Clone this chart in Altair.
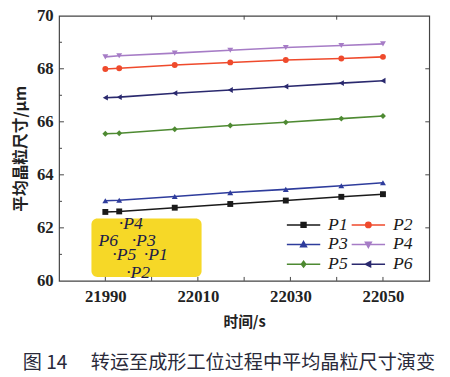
import altair as alt
import pandas as pd

# ---- data ----
times = [21990, 21993, 22005, 22017, 22029, 22041, 22050]
series_names = ["P1", "P2", "P3", "P4", "P5", "P6"]
p1 = [62.60, 62.62, 62.76, 62.90, 63.03, 63.17, 63.27]
p2 = [67.99, 68.02, 68.14, 68.24, 68.33, 68.39, 68.45]
p3 = [63.02, 63.04, 63.18, 63.33, 63.45, 63.59, 63.70]
p4 = [68.45, 68.49, 68.59, 68.70, 68.80, 68.88, 68.94]
p5 = [65.55, 65.57, 65.72, 65.86, 65.98, 66.12, 66.22]
p6 = [66.91, 66.93, 67.08, 67.20, 67.33, 67.46, 67.55]

colors = ["#1a1a1a", "#ef4a2c", "#2e3c9c", "#a67cc6", "#4e8a32", "#2a296e"]
shapes = ["square", "circle", "triangle-up", "triangle-down", "diamond", "triangle-left"]
legend_paths = [
    "M-3.4,0H3.4M-0.5,-0.5H0.5V0.5H-0.5Z",
    "M-3.4,0H3.4M0.55,0A0.55,0.55,0,1,1,-0.55,0A0.55,0.55,0,1,1,0.55,0Z",
    "M-3.4,0H3.4M0,-0.6L0.6,0.45L-0.6,0.45Z",
    "M-3.4,0H3.4M0,0.6L0.6,-0.45L-0.6,-0.45Z",
    "M-3.4,0H3.4M0,-0.6L0.45,0L0,0.6L-0.45,0Z",
    "M-3.4,0H3.4M-0.6,0L0.45,-0.55L0.45,0.55Z",
]

x_ticks_bottom = [21990, 22000, 22010, 22020, 22030, 22040, 22050]
x_ticks_top = [22000, 22020, 22040]
x_labels = [21990, 22010, 22030, 22050]
y_labels = [60, 62, 64, 66, 68, 70]
y_ticks_major = [62, 64, 66, 68]
y_ticks_minor = [61, 63, 65, 67, 69]

# inset annotation (yellow box)
box = pd.DataFrame({"x": [21987.0], "x2": [22010.8], "y": [60.15], "y2": [62.35]})
inset_text = ["·P4", "P6", "·P3", "·P5", "·P1", "·P2"]
inset_x = [21992.9, 21988.5, 21995.7, 21991.5, 21998.3, 21994.5]
inset_y = [62.15, 61.50, 61.50, 60.96, 60.96, 60.29]

caption = "图 14\u3000 转运至成形工位过程中平均晶粒尺寸演变"

# ---- build tables ----
rows = []
for name, vals in zip(series_names, [p1, p2, p3, p4, p5, p6]):
    for t, v in zip(times, vals):
        rows.append({"t": t, "v": v, "s": name})
df = pd.DataFrame(rows)

W, H = 377, 270
xscale = alt.Scale(domain=[21980, 22060], nice=False, zero=False)
yscale = alt.Scale(domain=[60, 70], nice=False, zero=False)
cscale = alt.Scale(domain=series_names, range=colors)

X = alt.X("t:Q", scale=xscale,
          axis=alt.Axis(values=x_labels, format="d", ticks=False, domain=False, grid=False,
                        labelPadding=8, title="时间/s", titlePadding=10))
Y = alt.Y("v:Q", scale=yscale,
          axis=alt.Axis(values=y_labels, ticks=False, domain=False, grid=False,
                        labelPadding=6, title="平均晶粒尺寸/μm", titlePadding=8,
                        titleFontSize=16))

lines = alt.Chart(df).mark_line(strokeWidth=1.6).encode(
    x=X, y=Y, color=alt.Color("s:N", scale=cscale, legend=None), detail="s:N")

point_layers = []
for name, shp in zip(series_names, shapes):
    point_layers.append(
        alt.Chart(df).transform_filter(alt.datum.s == name)
        .mark_point(filled=True, shape=shp, size=36, opacity=1)
        .encode(x="t:Q", y="v:Q", color=alt.Color("s:N", scale=cscale, legend=None))
    )

leg = alt.Legend(orient="none", legendX=240, legendY=204, columns=2, direction="horizontal",
                 title=None, symbolSize=100, symbolStrokeWidth=1.5, labelFont="Liberation Serif",
                 labelFontStyle="italic", labelFontSize=18, labelColor="#1a1a1a",
                 labelOffset=16, columnPadding=1, rowPadding=2, padding=0)
# legend-only layer: its marks sit outside the x domain and are clipped away
legend_layer = alt.Chart(df).transform_calculate(tl="datum.t + 1000").mark_point(
    filled=True, size=30, strokeWidth=1.5, opacity=1, clip=True).encode(
    x=alt.X("tl:Q", scale=xscale), y="v:Q",
    fill=alt.Fill("s:N", scale=alt.Scale(range=colors), legend=leg),
    stroke=alt.Stroke("s:N", scale=alt.Scale(range=colors), legend=leg),
    shape=alt.Shape("s:N", scale=alt.Scale(range=legend_paths), legend=leg),
)

rect = alt.Chart(box).mark_rect(color="#f6d827", cornerRadius=6).encode(
    x="x:Q", x2="x2:Q", y="y:Q", y2="y2:Q")
tdf = pd.DataFrame({"x": inset_x, "y": inset_y, "txt": inset_text})
texts = alt.Chart(tdf).mark_text(align="left", baseline="middle", font="Liberation Serif",
                                 fontStyle="italic", fontSize=18, color="#1c1c48").encode(
    x="x:Q", y="y:Q", text="txt:N")

tb = alt.Chart(pd.DataFrame({"t": x_ticks_bottom})).mark_rule(color="#444", strokeWidth=1).encode(
    x="t:Q", y=alt.value(H), y2=alt.value(H - 4))
tt = alt.Chart(pd.DataFrame({"t": x_ticks_top})).mark_rule(color="#444", strokeWidth=1).encode(
    x="t:Q", y=alt.value(0), y2=alt.value(4))
tlM = alt.Chart(pd.DataFrame({"v": y_ticks_major})).mark_rule(color="#444", strokeWidth=1).encode(
    y="v:Q", x=alt.value(0), x2=alt.value(5))
tlm = alt.Chart(pd.DataFrame({"v": y_ticks_minor})).mark_rule(color="#444", strokeWidth=1).encode(
    y="v:Q", x=alt.value(0), x2=alt.value(3))
tr = alt.Chart(pd.DataFrame({"v": y_ticks_major})).mark_rule(color="#444", strokeWidth=1).encode(
    y="v:Q", x=alt.value(W), x2=alt.value(W - 4))

chart = alt.layer(rect, texts, lines, *point_layers, legend_layer, tb, tt, tlM, tlm, tr).properties(
    width=W, height=H,
    autosize=alt.AutoSizeParams(type="none"),
    padding={"left": 52, "top": 4.5, "right": 13, "bottom": 94.5},
    title=alt.TitleParams(caption, orient="bottom", anchor="start", dx=10, offset=26,
                          font="Noto Sans CJK SC", fontSize=19.5, fontWeight="normal", color="#2a2a3a"),
    background="white",
).configure_view(stroke="#444", strokeWidth=1.2).configure_axis(
    labelFont="Liberation Serif", labelFontSize=17, labelFontWeight="bold", labelColor="#222",
    titleFont="Noto Sans CJK SC", titleFontSize=15, titleFontWeight="bold", titleColor="#222",
)

chart.save("out.html", embed_options={"renderer": "svg", "actions": False})
